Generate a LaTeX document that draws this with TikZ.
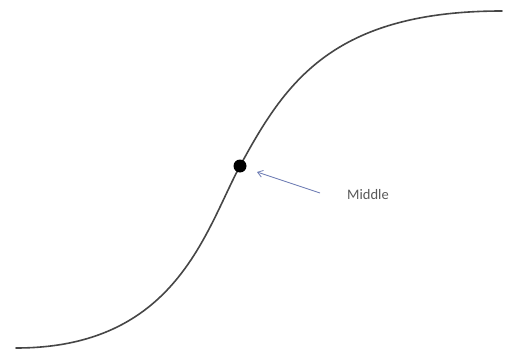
\documentclass[tikz,border=0pt]{standalone}
\usepackage{fontspec}
\setmainfont{Carlito}
\usetikzlibrary{arrows.meta}
\definecolor{arrowblue}{RGB}{110,125,180}
\definecolor{curvegray}{RGB}{70,70,70}
\tikzset{
  curve/.style={draw=curvegray, line width=1.6pt, line cap=round},
  dotnode/.style={circle, fill=black, inner sep=0pt, minimum size=13pt},
  pointer/.style={draw=arrowblue, line width=0.8pt, -{Straight Barb[length=5pt,width=7pt]}},
  lbl/.style={font=\fontsize{14.5}{17}\selectfont, text=black!65}
}
\begin{document}
\begin{tikzpicture}[x=1pt,y=-1pt]
\useasboundingbox (0,0) rectangle (507,351);
\coordinate (start) at (16,348);
\coordinate (finish) at (502,11);
\coordinate (midpt) at (240,166);
\draw[curve] (start) .. controls (176,348) and (205,231) .. (midpt)
  .. controls (285,83) and (332,11) .. (finish);
\node[dotnode] (mid) at (midpt) {};
\node[lbl] (txt) at (368,195) {Middle};
\coordinate (tail) at (320,193);
\coordinate (head) at (257,172);
\draw[pointer] (tail) -- (head);
\end{tikzpicture}
\end{document}
